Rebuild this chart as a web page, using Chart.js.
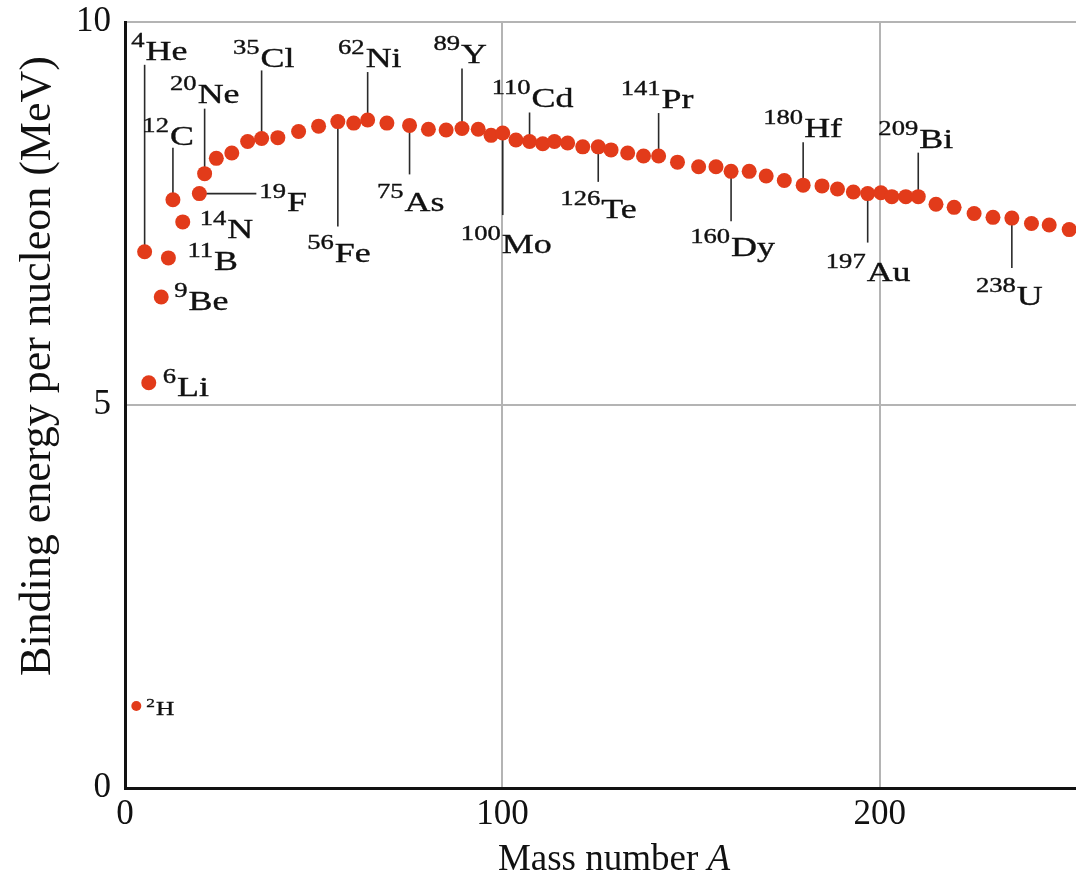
<!DOCTYPE html>
<html><head><meta charset="utf-8">
<script src="https://cdn.jsdelivr.net/npm/chart.js@4.4.1/dist/chart.umd.min.js"></script>
<style>html,body{margin:0;padding:0;background:#fff;}#wrap{width:1076px;height:875px;}</style>
</head><body><div id="wrap"><canvas id="c" width="1076" height="875"></canvas></div>
<script>
// ---- data ----
const massNumber = [3.0, 5.2, 6.3, 9.6, 11.5, 12.7, 15.3, 19.7, 21.1, 24.2, 28.3, 32.5, 36.2, 40.5, 46.0, 51.3, 56.4, 60.6, 64.3, 69.4, 75.4, 80.4, 85.1, 89.3, 93.6, 97.0, 100.1, 103.6, 107.2, 110.7, 113.8, 117.3, 121.3, 125.4, 128.8, 133.2, 137.4, 141.4, 146.4, 152.0, 156.6, 160.6, 165.4, 169.9, 174.7, 179.7, 184.7, 188.8, 193.0, 196.8, 200.3, 203.2, 206.9, 210.2, 214.9, 219.7, 225.0, 230.0, 235.0, 240.2, 244.9, 250.2];
const bindingEnergy = [1.07, 7.00, 5.29, 6.41, 6.92, 7.68, 7.39, 7.76, 8.02, 8.22, 8.29, 8.44, 8.48, 8.49, 8.57, 8.64, 8.70, 8.68, 8.72, 8.68, 8.65, 8.60, 8.59, 8.61, 8.60, 8.52, 8.55, 8.46, 8.44, 8.41, 8.44, 8.42, 8.37, 8.37, 8.33, 8.29, 8.25, 8.25, 8.17, 8.11, 8.11, 8.05, 8.05, 7.99, 7.93, 7.87, 7.86, 7.82, 7.78, 7.76, 7.77, 7.72, 7.72, 7.72, 7.62, 7.58, 7.50, 7.45, 7.44, 7.37, 7.35, 7.29];
const xTickValues = [0, 100, 200];
const yTickValues = [0, 5, 10];
const labelIndex  = [0, 1, 2, 3, 4, 5, 6, 7, 8, 12, 16, 18, 20, 23, 26, 28, 33, 37, 41, 45, 49, 53, 58];
const labelMass   = ['2','4','6','9','11','12','14','19','20','35','56','62','75','89','100','110','126','141','160','180','197','209','238'];
const labelSymbol = ['H','He','Li','Be','B','C','N','F','Ne','Cl','Fe','Ni','As','Y','Mo','Cd','Te','Pr','Dy','Hf','Au','Bi','U'];
const xTitle = 'Mass number ';
const xTitleVar = 'A';
const yTitle = 'Binding energy per nucleon (MeV)';

// ---- label layout (pixel offsets from each point) ----
const labelLayout = {
  H:  {mode:'right', tx:10, ty:9, small:true},
  He: {mode:'up', line:-187, tx:1, ty:-192},
  Li: {mode:'right', tx:14, ty:13},
  Be: {mode:'right', tx:13, ty:13},
  B:  {mode:'right', tx:19, ty:12},
  C:  {mode:'up', line:-52, tx:-3, ty:-55},
  N:  {mode:'right', tx:17, ty:16},
  F:  {mode:'right', line:57, tx:60, ty:17},
  Ne: {mode:'up', line:-65, tx:-7, ty:-71},
  Cl: {mode:'up', line:-68, tx:-1, ty:-71},
  Fe: {mode:'down', line:105, tx:-3, ty:140},
  Ni: {mode:'up', line:-48, tx:-2, ty:-53},
  As: {mode:'down', line:49, tx:-5, ty:86},
  Y:  {mode:'up', line:-60, tx:-1, ty:-65},
  Mo: {mode:'down', line:82, tx:-1, ty:120},
  Cd: {mode:'up', line:-29, tx:2, ty:-34},
  Te: {mode:'down', line:35, tx:3, ty:71},
  Pr: {mode:'up', line:-43, tx:3, ty:-48},
  Dy: {mode:'down', line:50, tx:0, ty:85},
  Hf: {mode:'up', line:-43, tx:1, ty:-48},
  Au: {mode:'down', line:49, tx:-1, ty:87},
  Bi: {mode:'up', line:-44, tx:1, ty:-49},
  U:  {mode:'down', line:50, tx:5, ty:87}
};

const SERIF = '"Liberation Serif", "Times New Roman", serif';
const TEXT = '#111111';
const SX = 1.33;

function textW(ctx, text, font, sx) {
  ctx.save(); ctx.font = font; const w = ctx.measureText(text).width * sx; ctx.restore(); return w;
}
function drawStretched(ctx, text, x, y, font, sx) {
  ctx.save();
  ctx.font = font;
  ctx.translate(x, y);
  ctx.scale(sx, 1);
  ctx.textAlign = 'left';
  ctx.textBaseline = 'alphabetic';
  ctx.fillStyle = TEXT;
  ctx.strokeStyle = TEXT;
  ctx.lineWidth = 0.35;
  ctx.fillText(text, 0, 0);
  ctx.strokeText(text, 0, 0);
  ctx.restore();
}

const isotopePlugin = {
  id: 'isotopes',
  beforeDatasetsDraw(chart) {
    const ctx = chart.ctx;
    const meta = chart.getDatasetMeta(0);
    ctx.save();
    ctx.strokeStyle = '#2a2a2a';
    ctx.lineWidth = 1.6;
    labelIndex.forEach((idx, i) => {
      const lay = labelLayout[labelSymbol[i]];
      if (lay.line === undefined) return;
      const p = meta.data[idx];
      ctx.beginPath();
      if (lay.mode === 'right') { ctx.moveTo(p.x, p.y); ctx.lineTo(p.x + lay.line, p.y); }
      else { ctx.moveTo(p.x, p.y); ctx.lineTo(p.x, p.y + lay.line); }
      ctx.stroke();
    });
    ctx.restore();
  },
  afterDatasetsDraw(chart) {
    const ctx = chart.ctx;
    const meta = chart.getDatasetMeta(0);
    labelIndex.forEach((idx, i) => {
      const sym = labelSymbol[i];
      const lay = labelLayout[sym];
      const p = meta.data[idx];
      const mainFont = (lay.small ? 19 : 27) + 'px ' + SERIF;
      const supFont = (lay.small ? 13 : 20) + 'px ' + SERIF;
      const raise = lay.small ? 8 : 13;
      const supW = textW(ctx, labelMass[i], supFont, SX);
      let start, split;
      if (lay.mode === 'right') { start = p.x + lay.tx; split = start + supW + 1; }
      else { split = p.x + lay.tx; start = split - supW - 1; }
      const base = p.y + lay.ty;
      drawStretched(ctx, labelMass[i], start, base - raise, supFont, SX);
      drawStretched(ctx, sym, split, base, mainFont, SX);
    });
  },
  afterDraw(chart) {
    const ctx = chart.ctx;
    // y title
    ctx.save();
    ctx.fillStyle = TEXT;
    ctx.font = '44px ' + SERIF;
    ctx.translate(50, 366);
    ctx.rotate(-Math.PI / 2);
    ctx.textAlign = 'center';
    ctx.textBaseline = 'alphabetic';
    ctx.fillText(yTitle, 0, 0);
    ctx.restore();
    // x title
    ctx.save();
    ctx.fillStyle = TEXT;
    const f1 = '37px ' + SERIF, f2 = 'italic 37px ' + SERIF;
    ctx.font = f1; const w1 = ctx.measureText(xTitle).width;
    ctx.font = f2; const w2 = ctx.measureText(xTitleVar).width;
    const x0 = 614 - (w1 + w2) / 2;
    ctx.textBaseline = 'alphabetic'; ctx.textAlign = 'left';
    ctx.font = f1; ctx.fillText(xTitle, x0, 870);
    ctx.font = f2; ctx.fillText(xTitleVar, x0 + w1, 870);
    ctx.restore();
  }
};

const points = massNumber.map((a, i) => ({x: a, y: bindingEnergy[i]}));
const gridColor = c => (c.tick && c.tick.value === 0) ? 'rgba(0,0,0,0)' : '#b4b4b4';
function zeroPad(s) { s.paddingTop = 0; s.paddingBottom = 0; s.paddingLeft = 0; s.paddingRight = 0; }

new Chart(document.getElementById('c'), {
  type: 'scatter',
  data: {
    datasets: [{
      data: points,
      backgroundColor: '#e23b1a',
      borderWidth: 0,
      pointRadius: c => c.dataIndex === 0 ? 5 : 7.5,
      pointHoverRadius: c => c.dataIndex === 0 ? 5 : 7.5,
      clip: false
    }]
  },
  options: {
    responsive: false,
    animation: false,
    events: [],
    layout: {autoPadding: false, padding: {top: 22, right: 0, bottom: 0, left: 0}},
    plugins: {legend: {display: false}, tooltip: {enabled: false}},
    scales: {
      x: {
        type: 'linear', min: 0, max: 252,
        afterFit: s => { s.height = 87; zeroPad(s); },
        afterBuildTicks: s => { s.ticks = xTickValues.map(v => ({value: v})); },
        ticks: {padding: 6, color: TEXT, font: {family: SERIF, size: 35}, maxRotation: 0, autoSkip: false, includeBounds: false},
        grid: {color: gridColor, lineWidth: 2, drawTicks: false},
        border: {color: '#111', width: 3}
      },
      y: {
        type: 'linear', min: 0, max: 10,
        afterFit: s => { s.width = 125; zeroPad(s); },
        afterBuildTicks: s => { s.ticks = yTickValues.map(v => ({value: v})); },
        ticks: {padding: 14, color: TEXT, font: {family: SERIF, size: 35}, includeBounds: false},
        grid: {color: gridColor, lineWidth: 2, drawTicks: false},
        border: {color: '#111', width: 3}
      }
    }
  },
  plugins: [isotopePlugin]
});
</script></body></html>
